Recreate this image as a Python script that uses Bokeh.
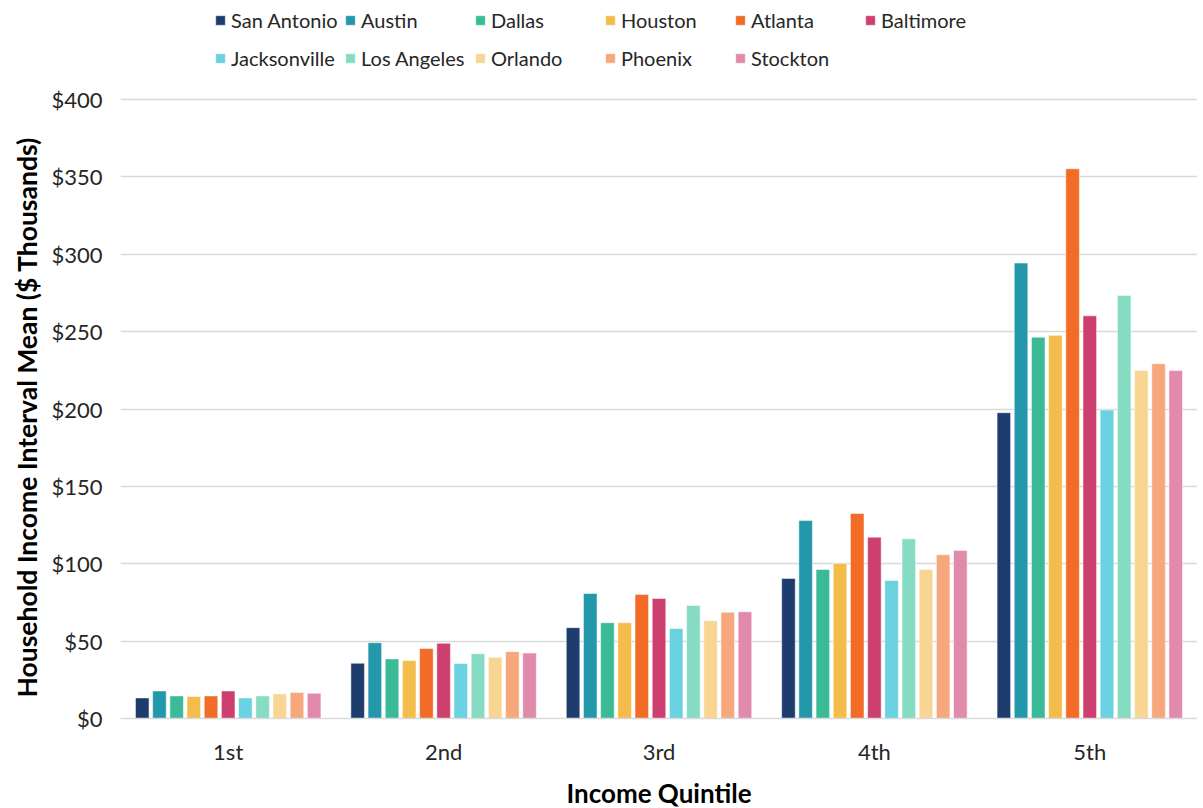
from bokeh.plotting import figure
from bokeh.models import FactorRange, Legend, LegendItem, FixedTicker, NumeralTickFormatter, Title
from bokeh.transform import dodge
from bokeh.embed import file_html
from bokeh.resources import INLINE

quintiles = ["1st", "2nd", "3rd", "4th", "5th"]
cities = ["San Antonio", "Austin", "Dallas", "Houston", "Atlanta", "Baltimore",
          "Jacksonville", "Los Angeles", "Orlando", "Phoenix", "Stockton"]
colors = ["#1e3c6e", "#2398aa", "#3bba98", "#f4bc4a", "#f26b27", "#cc3f6f",
          "#6ad1e0", "#86dcc3", "#f8d593", "#f6a77c", "#e18aab"]

san_antonio = [13.3, 35.7, 58.7, 90.5, 197.6]
austin = [17.8, 49.0, 80.8, 127.9, 294.3]
dallas = [14.6, 38.5, 61.9, 96.3, 246.4]
houston = [14.2, 37.4, 61.9, 100.2, 247.6]
atlanta = [14.6, 45.2, 80.2, 132.5, 355.2]
baltimore = [17.8, 48.6, 77.6, 117.2, 260.2]
jacksonville = [13.3, 35.5, 58.1, 89.2, 199.3]
los_angeles = [14.6, 41.9, 73.1, 116.1, 273.3]
orlando = [15.9, 39.5, 63.2, 96.3, 224.8]
phoenix = [16.8, 43.2, 68.6, 105.8, 229.3]
stockton = [16.3, 42.3, 69.0, 108.6, 224.8]

series = [san_antonio, austin, dallas, houston, atlanta, baltimore,
          jacksonville, los_angeles, orlando, phoenix, stockton]

FONT = "Lato"

FRAME_H = 718
# frame extends up to the top of the figure so the legend can sit above the $400 line
Y_TOP = 400 * FRAME_H / (FRAME_H - 99)

p = figure(x_range=FactorRange(*quintiles, range_padding=0), y_range=(0, Y_TOP),
           frame_width=1077, frame_height=FRAME_H, output_backend="svg", toolbar_location=None,
           min_border_left=120, min_border_top=0, min_border_right=0, min_border_bottom=0)

data = {"q": quintiles}
for c, s in zip(cities, series):
    data[c] = s

items = []
pitch = 0.0798
for i, (c, col) in enumerate(zip(cities, colors)):
    r = p.vbar(x=dodge("q", (i - 5) * pitch, range=p.x_range), top=c, source=data,
               width=0.063, fill_color=col, line_color="white", line_alpha=0.5, line_width=1)
    items.append(LegendItem(label=c, renderers=[r]))

legend = Legend(items=items, orientation="horizontal", ncols=6,
                location=(94, FRAME_H - 77), label_text_font=FONT, label_text_font_size="20px",
                label_text_color="#262626", glyph_width=12, glyph_height=12,
                label_standoff=5, spacing=0, label_width=113, label_height=38,
                padding=0, margin=0, border_line_color=None, background_fill_alpha=0)
p.add_layout(legend, "center")

p.outline_line_color = None
p.xgrid.grid_line_color = None
p.ygrid.grid_line_color = "#d9d9d9"
p.ygrid.grid_line_width = 1.3
p.yaxis.ticker = FixedTicker(ticks=list(range(0, 401, 50)))
p.yaxis.formatter = NumeralTickFormatter(format="$0")
p.yaxis.axis_line_color = None
p.xaxis.axis_line_color = "#d9d9d9"
p.xaxis.axis_line_width = 1.5
for ax in (p.xaxis, p.yaxis):
    ax.major_tick_line_color = None
    ax.minor_tick_line_color = None
    ax.major_label_text_font = FONT
    ax.major_label_text_font_size = "22px"
    ax.major_label_text_color = "#262626"
p.xaxis.axis_label = "Income Quintile"
p.xaxis.axis_label_text_font = FONT
p.xaxis.axis_label_text_font_size = "26px"
p.xaxis.axis_label_text_font_style = "bold"
p.xaxis.axis_label_text_color = "#000000"
p.xaxis.major_label_standoff = 13
p.xaxis.axis_label_standoff = 9
p.yaxis.major_label_standoff = 12

ytitle = Title(text="Household Income Interval Mean ($ Thousands)", align="left", offset=21,
               text_font=FONT, text_font_size="26.5px", text_font_style="bold",
               text_color="#000000", standoff=12)
p.add_layout(ytitle, "left")

open("out.html", "w").write(file_html(p, INLINE))
